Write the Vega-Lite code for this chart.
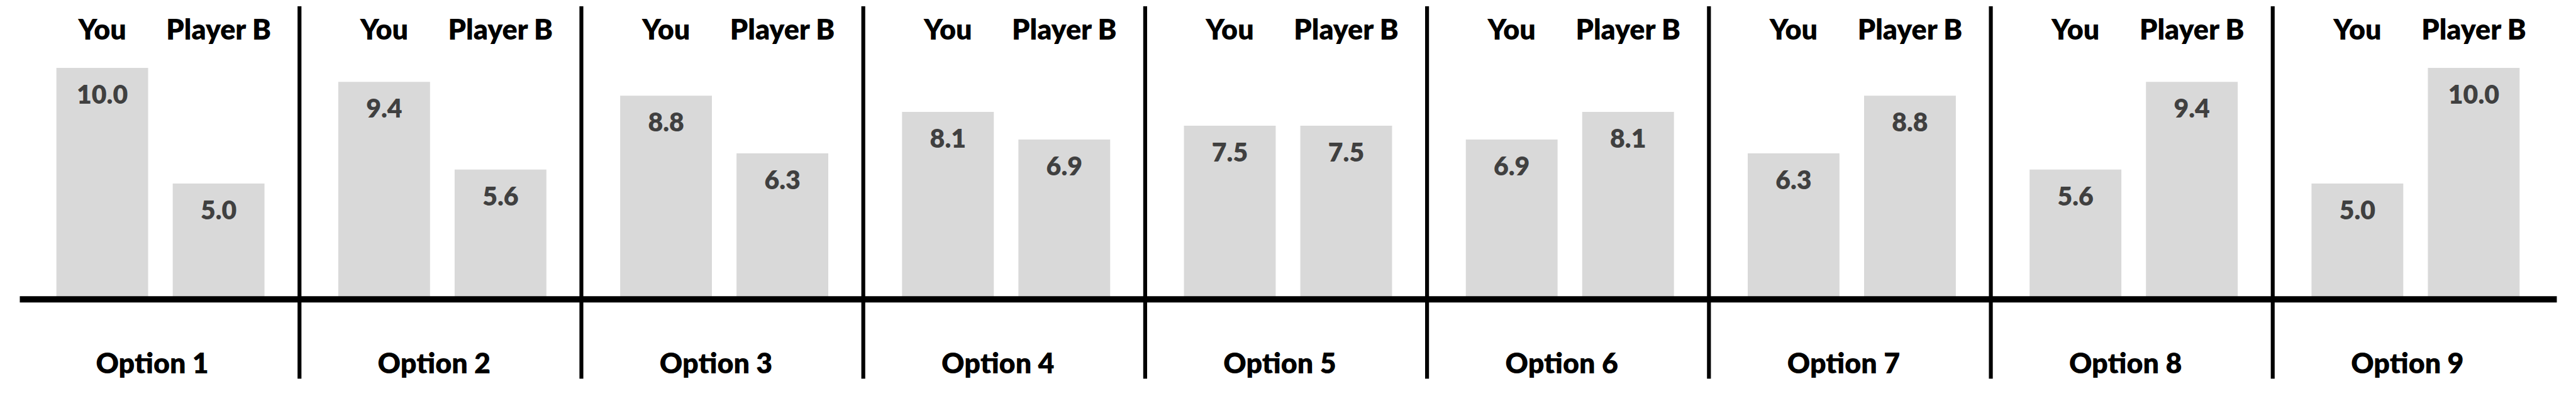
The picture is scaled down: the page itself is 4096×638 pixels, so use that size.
{
  "$schema": "https://vega.github.io/schema/vega-lite/v6.json",
  "width": 4096,
  "height": 475.7,
  "autosize": {"type": "none"},
  "padding": {"left": 0, "top": 0, "right": 0, "bottom": 162.3},
  "background": "white",
  "config": {"view": {"stroke": null}, "font": "Lato"},
  "data": {
    "values": [
      {"option": "Option 1", "player": "You", "value": 10.0},
      {"option": "Option 1", "player": "Player B", "value": 5.0},
      {"option": "Option 2", "player": "You", "value": 9.4},
      {"option": "Option 2", "player": "Player B", "value": 5.6},
      {"option": "Option 3", "player": "You", "value": 8.8},
      {"option": "Option 3", "player": "Player B", "value": 6.3},
      {"option": "Option 4", "player": "You", "value": 8.1},
      {"option": "Option 4", "player": "Player B", "value": 6.9},
      {"option": "Option 5", "player": "You", "value": 7.5},
      {"option": "Option 5", "player": "Player B", "value": 7.5},
      {"option": "Option 6", "player": "You", "value": 6.9},
      {"option": "Option 6", "player": "Player B", "value": 8.1},
      {"option": "Option 7", "player": "You", "value": 6.3},
      {"option": "Option 7", "player": "Player B", "value": 8.8},
      {"option": "Option 8", "player": "You", "value": 5.6},
      {"option": "Option 8", "player": "Player B", "value": 9.4},
      {"option": "Option 9", "player": "You", "value": 5.0},
      {"option": "Option 9", "player": "Player B", "value": 10.0}
    ]
  },
  "encoding": {
    "x": {
      "field": "option",
      "type": "nominal",
      "sort": null,
      "scale": {"range": [31, 4065], "paddingInner": 0, "paddingOuter": 0},
      "axis": {
        "title": null,
        "orient": "bottom",
        "domainColor": "black",
        "domainWidth": 9.9,
        "domainCap": "butt",
        "ticks": false,
        "tickSize": 0,
        "grid": false,
        "labelPadding": 117.3,
        "labelBaseline": "alphabetic",
        "labelFont": "Lato",
        "labelFontWeight": 800,
        "labelFontSize": 44.8,
        "labelColor": "black",
        "labelOffset": -13,
        "labelAngle": 0,
        "labelOverlap": false,
        "labelBound": false,
        "labelFlush": false,
        "zindex": 1
      }
    }
  },
  "layer": [
    {
      "mark": {"type": "bar", "color": "#d9d9d9"},
      "encoding": {
        "xOffset": {"field": "player", "type": "nominal", "sort": null, "scale": {"paddingInner": 0.2114, "paddingOuter": 0.317}},
        "y": {"field": "value", "type": "quantitative", "scale": {"domain": [0, 12.941], "nice": false, "zero": true}, "axis": null}
      }
    },
    {
      "mark": {"type": "text", "font": "Lato", "fontWeight": 800, "fontSize": 41, "baseline": "alphabetic", "align": "center", "dy": 57, "color": "#404040"},
      "encoding": {
        "xOffset": {"field": "player", "type": "nominal", "sort": null},
        "y": {"field": "value", "type": "quantitative"},
        "text": {"field": "value", "type": "quantitative", "format": ".1f"}
      }
    },
    {
      "mark": {"type": "text", "font": "Lato", "fontWeight": 800, "fontSize": 44.8, "baseline": "alphabetic", "align": "center", "color": "black"},
      "encoding": {
        "xOffset": {"field": "player", "type": "nominal", "sort": null},
        "y": {"datum": 11.222, "type": "quantitative"},
        "text": {"field": "player", "type": "nominal"}
      }
    },
    {
      "transform": [{"filter": "datum.player === 'You' && datum.option !== 'Option 9'"}],
      "mark": {"type": "rule", "color": "black", "strokeWidth": 6.2, "xOffset": -3},
      "encoding": {
        "x": {"field": "option", "type": "nominal", "sort": null, "bandPosition": 1},
        "y": {"datum": 12.672, "type": "quantitative"},
        "y2": {"datum": -3.447}
      }
    }
  ]
}
